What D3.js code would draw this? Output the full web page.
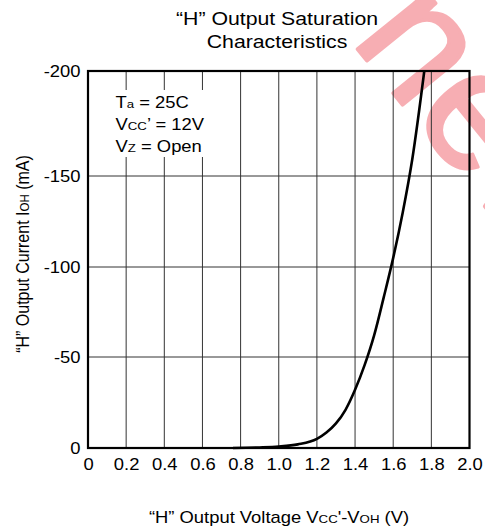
<!DOCTYPE html>
<html><head><meta charset="utf-8">
<script src="https://cdn.jsdelivr.net/npm/d3@7"></script>
<style>html,body{margin:0;padding:0;background:#fff}svg{display:block}</style>
</head><body>
<svg id="c" width="485" height="531"></svg>
<script>
// ---- data ----
const voltage = [0.76, 0.9, 1.0, 1.1, 1.2, 1.25, 1.3, 1.35, 1.4, 1.45, 1.5, 1.55, 1.6, 1.65, 1.7, 1.763];
const current = [0, -0.3, -0.8, -2, -5, -8.5, -13.5, -21, -32, -45.5, -62, -83, -105, -130, -158, -200];
const xTickValues = [0, 0.2, 0.4, 0.6, 0.8, 1.0, 1.2, 1.4, 1.6, 1.8, 2.0];
const xTickLabels = ["0", "0.2", "0.4", "0.6", "0.8", "1.0", "1.2", "1.4", "1.6", "1.8", "2.0"];
const yTickValues = [0, -50, -100, -150, -200];
const yTickLabels = ["0", "-50", "-100", "-150", "-200"];

// ---- layout ----
const FONT = "Liberation Sans, Arial, Helvetica, sans-serif";
const SX = 1.15; // horizontal stretch of the printed lettering
const left = 88, right = 469.5;
const yRange = [448, 357, 267, 176, 71]; // pixel rows of the printed ticks
const svg = d3.select("#c").style("font-family", FONT);

const x = d3.scaleLinear().domain([0, 2]).range([left, right]);
const y = d3.scaleLinear().domain(yTickValues).range(yRange);

// watermark
const wm = svg.append("g").attr("fill", "#f7aeb3").attr("stroke", "#f7aeb3").attr("stroke-width", 3.5)
  .attr("stroke-linejoin", "round").attr("font-size", 170).attr("font-family", FONT);
wm.append("text").attr("transform", "translate(350,40) rotate(51)").text("new");
wm.append("text").attr("transform", "translate(306,6.5) rotate(51)").attr("text-anchor", "end").text("for");

// gridlines
svg.append("g").selectAll("line").data(xTickValues.slice(1, -1)).join("line")
  .attr("x1", d => x(d)).attr("x2", d => x(d))
  .attr("y1", y(-200)).attr("y2", y(0))
  .attr("stroke", "#333").attr("stroke-width", 1);
svg.append("g").selectAll("line").data(yTickValues.slice(1, -1)).join("line")
  .attr("x1", left - 1).attr("x2", right)
  .attr("y1", d => y(d)).attr("y2", d => y(d))
  .attr("stroke", "#333").attr("stroke-width", 1);

// annotation box (white background hides gridlines)
svg.append("rect").attr("x", 100).attr("y", 90).attr("width", 116).attr("height", 67).attr("fill", "#fff");
function line(g, px, py, parts, size) {
  const t = g.append("text").attr("transform", `translate(${px},${py}) scale(${SX},1)`).attr("font-size", size);
  parts.forEach(p => t.append("tspan").text(p[0]).attr("font-size", p[1] ? size * 0.72 : null));
  return t;
}
const ann = svg.append("g").attr("fill", "#000");
line(ann, 115.5, 108, [["T"], ["a", 1], [" = 25C"]], 16);
line(ann, 115.5, 130, [["V"], ["CC", 1], ["’ = 12V"]], 16);
line(ann, 115.5, 152, [["V"], ["Z", 1], [" = Open"]], 16);

// curve
const pts = voltage.map((v, i) => [v, current[i]]);
svg.append("path").datum(pts)
  .attr("fill", "none").attr("stroke", "#000").attr("stroke-width", 2.6)
  .attr("d", d3.line().x(d => x(d[0])).y(d => y(d[1])).curve(d3.curveMonotoneX));

// frame
svg.append("rect").attr("x", left).attr("y", y(-200)).attr("width", right - left).attr("height", y(0) - y(-200))
  .attr("fill", "none").attr("stroke", "#000").attr("stroke-width", 2.2);

// axes via d3 axis generators (labels only)
const xAxis = d3.axisBottom(x).tickValues(xTickValues).tickSize(0).tickPadding(11)
  .tickFormat((d, i) => xTickLabels[i]);
const gx = svg.append("g").attr("transform", `translate(0,${y(0)})`).call(xAxis);
gx.select(".domain").remove();
gx.selectAll("text").attr("font-size", 16).attr("font-family", FONT).attr("fill", "#000")
  .attr("transform", `scale(${SX},1)`);

const yAxis = d3.axisLeft(y).tickValues(yTickValues).tickSize(0).tickPadding(6.5)
  .tickFormat((d, i) => yTickLabels[i]);
const gy = svg.append("g").attr("transform", `translate(${left},0)`).call(yAxis);
gy.select(".domain").remove();
gy.selectAll("text").attr("font-size", 16).attr("font-family", FONT).attr("fill", "#000")
  .attr("transform", `scale(${SX},1)`);

// title
const title = svg.append("g").attr("text-anchor", "middle").attr("fill", "#000");
line(title, 277, 25, [["“H” Output Saturation"]], 18.5);
line(title, 277, 48, [["Characteristics"]], 18.5);

// x axis title
const xtg = svg.append("g").attr("text-anchor", "middle");
line(xtg, 279, 523, [["“H” Output Voltage V"], ["CC", 1], ["'-V"], ["OH", 1], [" (V)"]], 16);

// y axis title (rotated: stretch applies across the glyphs)
const yt = svg.append("text").attr("transform", `translate(29,254) rotate(-90) scale(1,${SX})`)
  .attr("text-anchor", "middle").attr("font-size", 16);
yt.append("tspan").text("“H” Output Current I");
yt.append("tspan").text("OH").attr("font-size", 16 * 0.72);
yt.append("tspan").text(" (mA)");
</script>
</body></html>
